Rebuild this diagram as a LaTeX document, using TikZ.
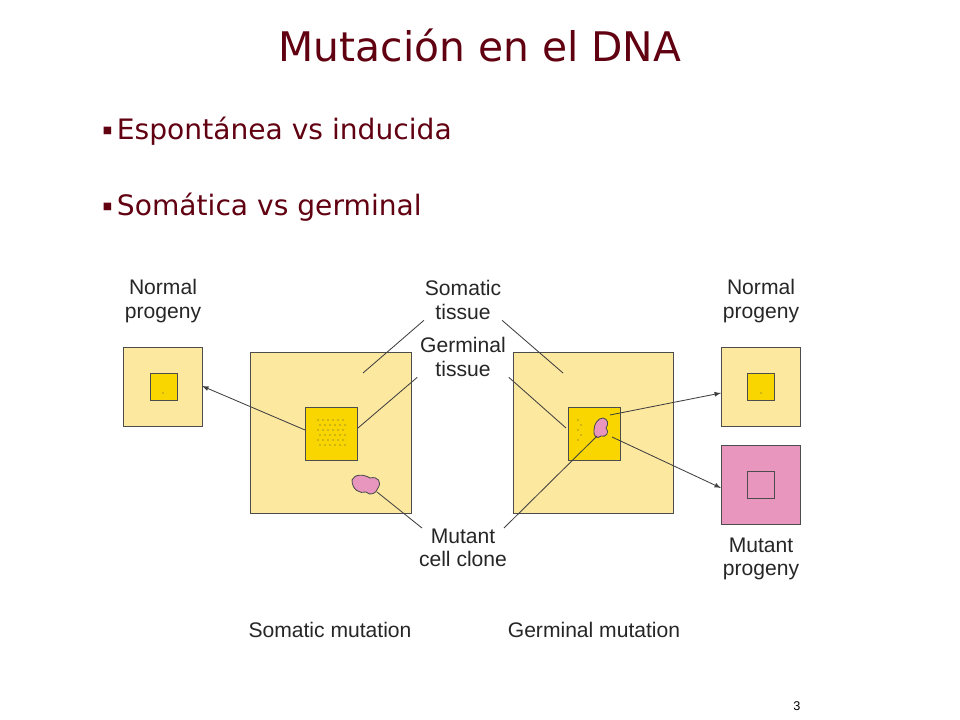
\documentclass[tikz,border=0pt]{standalone}
\usepackage{fontspec}
\setmainfont{Liberation Sans}
\newfontfamily\slidefont{DejaVu Sans}
\definecolor{tissue}{RGB}{253,232,160}
\definecolor{germ}{RGB}{250,214,0}
\definecolor{clone}{RGB}{232,150,190}
\definecolor{titlered}{RGB}{96,0,16}
\tikzset{
  tissuebox/.style={draw=black!70,fill=tissue,line width=0.6pt},
  germbox/.style={draw=black!70,fill=germ,line width=0.6pt},
  mutbox/.style={draw=black!70,fill=clone,line width=0.6pt},
  lbl/.style={align=center,font=\fontsize{15}{16.5}\selectfont,text=black!85},
  pointer/.style={draw=black!75,line width=0.6pt},
  arr/.style={pointer,-latex}
}
\begin{document}
\begin{tikzpicture}[x=0.025cm,y=-0.025cm]
\useasboundingbox (0,0) rectangle (960,720);
% title and bullets
\node[text=titlered,font=\slidefont\fontsize{29}{31}\selectfont] (title) at (480,45) {Mutación en el DNA};
\node[anchor=west,text=titlered,font=\slidefont\fontsize{20}{22}\selectfont] (b1) at (98,131) {{\fontsize{7}{7}\selectfont\raisebox{4pt}{■}}\,Espontánea vs inducida};
\node[anchor=west,text=titlered,font=\slidefont\fontsize{20}{22}\selectfont] (b2) at (98,207) {{\fontsize{7}{7}\selectfont\raisebox{4pt}{■}}\,Somática vs germinal};
% somatic mutation
\draw[tissuebox] (250,352) rectangle (411,513);
\draw[germbox] (305,407) rectangle (357,460);
\foreach \i in {0,...,5} \foreach \j in {0,...,5}
  \fill[black!70] ({318+\i*5+mod(\j,2)*2},{420+\j*5}) circle (0.5pt);
\draw[mutbox] (352,480) .. controls (354,474) and (364,474) .. (370,478) .. controls (378,476) and (382,482) .. (378,488) .. controls (376,494) and (370,496) .. (366,492) .. controls (360,494) and (352,490) .. (352,480) -- cycle;
% germinal mutation
\draw[tissuebox] (513,352) rectangle (673,513);
\draw[germbox] (568,407) rectangle (620,460);
\foreach \j in {0,...,4} \fill[black!70] ({578+mod(\j,2)*3},{420+\j*5}) circle (0.5pt);
\draw[mutbox] (594,430) .. controls (594,424) and (598,418) .. (603,418) .. controls (608,419) and (609,424) .. (606,428) .. controls (610,432) and (606,438) .. (601,436) .. controls (597,440) and (593,436) .. (594,430) -- cycle;
% progeny
\draw[tissuebox] (123,347) rectangle (202,426);
\draw[germbox] (150,373) rectangle (177,400);
\fill[black!70] (163,393) circle (0.5pt);
\draw[tissuebox] (721,347) rectangle (800,426);
\draw[germbox] (747,373) rectangle (774,400);
\fill[black!70] (761,393) circle (0.5pt);
\draw[mutbox] (721,445) rectangle (800,524);
\draw[draw=black!70,line width=0.6pt] (747,471) rectangle (774,498);
\coordinate (lprog) at (202,386);
\coordinate (rprog) at (721,393);
\coordinate (mprog) at (721,488);
% labels
\node[lbl] (lnorm) at (163,301) {Normal\\progeny};
\node[lbl] (rnorm) at (761,301) {Normal\\progeny};
\node[lbl] (mnorm) at (761,559) {Mutant\\progeny};
\node[lbl] (soma) at (463,300) {Somatic\\tissue};
\node[lbl] (germ) at (463,357) {Germinal\\tissue};
\node[lbl] (clon) at (463,548) {Mutant\\cell clone};
\node[lbl] (smut) at (330,630) {Somatic mutation};
\node[lbl] (gmut) at (594,630) {Germinal mutation};
\node[font=\fontsize{9}{9}\selectfont] (page) at (797,706) {3};
% pointers
\draw[pointer] (soma.south west) ++(4,-4) -- (363,373);
\draw[pointer] (soma.south east) ++(-4,-4) -- (563,373);
\draw[pointer] (germ.south west) ++(2,-4) -- (358,428);
\draw[pointer] (germ.south east) ++(-2,-4) -- (566,428);
\draw[pointer] (clon.north west) ++(8,4) -- (377,492);
\draw[pointer] (clon.north east) ++(-8,4) -- (597,436);
\draw[arr] (305,430) -- (lprog);
\draw[arr] (610,415) -- (rprog);
\draw[arr] (612,437) -- (mprog);
\end{tikzpicture}
\end{document}
